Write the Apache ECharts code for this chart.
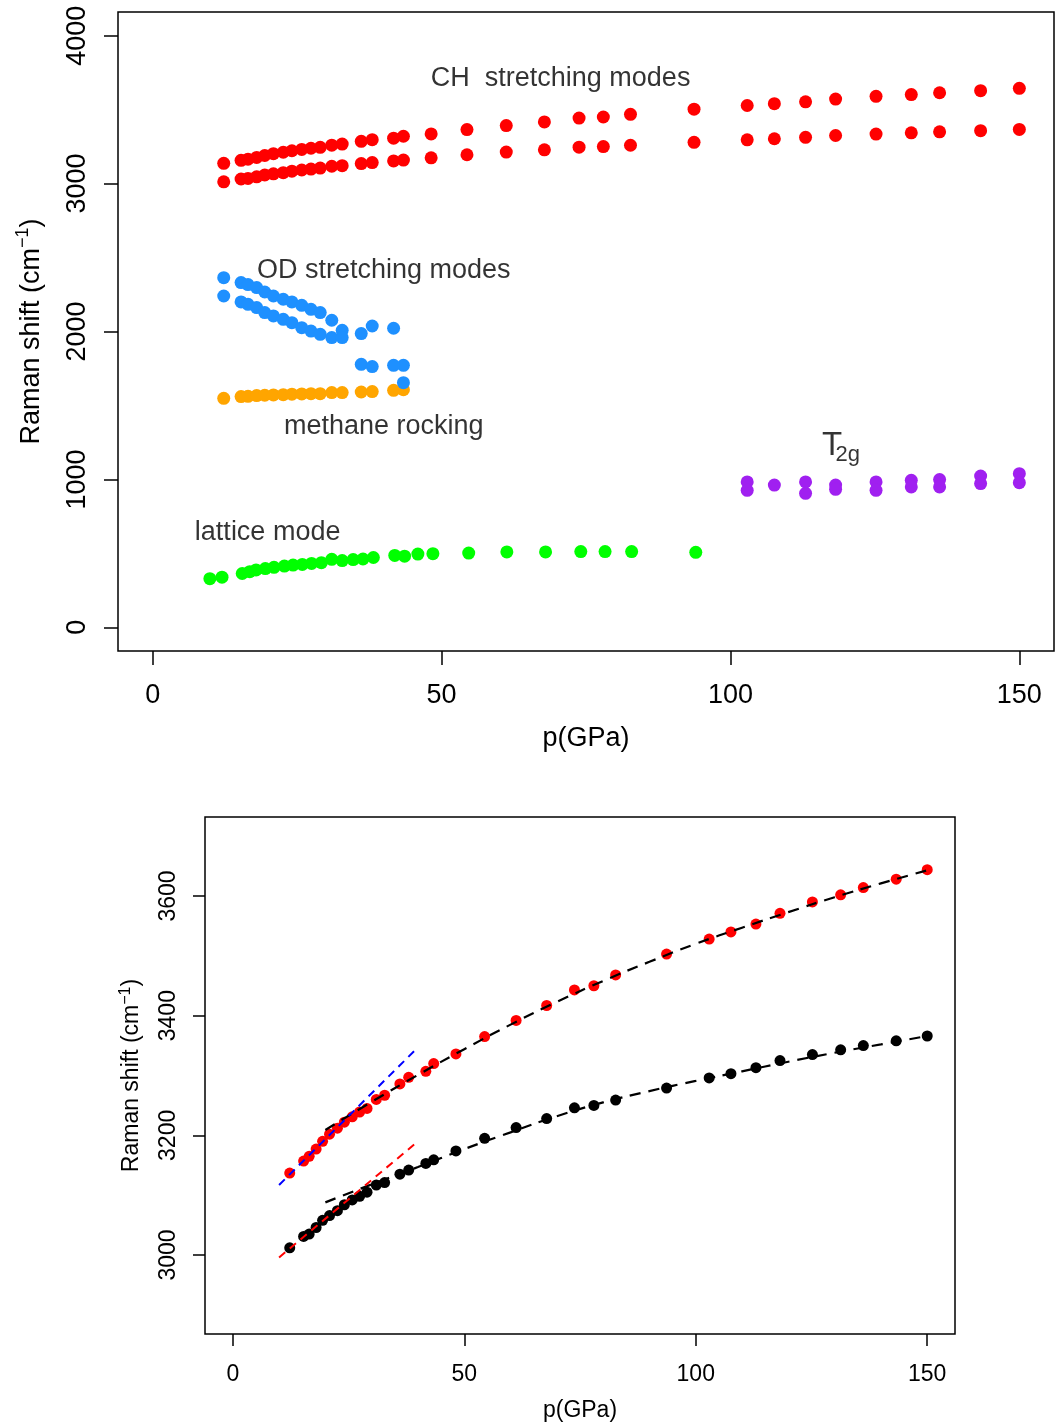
<!DOCTYPE html>
<html>
<head>
<meta charset="utf-8">
<script src="https://cdn.jsdelivr.net/npm/echarts@6.0.0/dist/echarts.min.js"></script>
<style>
  html, body { margin: 0; padding: 0; background: #fff; }
  #chart { width: 1055px; height: 1423px; }
</style>
</head>
<body>
<div id="chart"></div>
<script>
// Pressures (GPa) shared by both C-H stretching branches
const chPressure = [12.3, 15.3, 16.5, 18.0, 19.4, 20.9, 22.6, 24.1, 25.8, 27.4, 29.0, 31.0, 32.8, 36.1, 38.0, 41.7, 43.4,
  48.2, 54.4, 61.2, 67.8, 73.8, 78.0, 82.7, 93.7, 102.9, 107.6, 113.0, 118.2, 125.2, 131.3, 136.2, 143.3, 150.0];
const chUpper = [3137, 3157, 3165, 3177, 3190, 3202, 3212, 3222, 3231, 3239, 3245, 3260, 3267, 3286, 3297, 3307, 3320,
  3336, 3365, 3392, 3417, 3443, 3450, 3468, 3503, 3528, 3540, 3553, 3571, 3590, 3602, 3614, 3628, 3644];
const chLower = [3012, 3031, 3035, 3046, 3058, 3066, 3074, 3084, 3092, 3098, 3105, 3117, 3121, 3135, 3142, 3153, 3159,
  3174, 3195, 3213, 3228, 3246, 3250, 3259, 3279, 3296, 3303, 3313, 3325, 3335, 3343, 3350, 3358, 3366];

// O-D stretching and methane rocking (low-pressure phase)
const odPressure = [12.3, 15.3, 16.5, 18.0, 19.4, 20.9, 22.6, 24.1, 25.8, 27.4, 29.0, 31.0, 32.8, 36.1, 38.0, 41.7, 43.4];
const odUpper = [2364, 2331, 2317, 2297, 2267, 2240, 2218, 2200, 2177, 2150, 2128, 2076, 2008, 1986, 2037, 2022, 1771];
const odLower = [2240, 2200, 2184, 2162, 2128, 2105, 2082, 2060, 2026, 2003, 1981, 1959, 1959, 1778, 1763, 1771, 1654];
const rockShift = [1548, 1560, 1562, 1567, 1569, 1571, 1573, 1576, 1578, 1580, 1580, 1587, 1587, 1591, 1594, 1602, 1607];

// Lattice mode
const latticePressure = [9.9, 12.0, 15.5, 16.8, 17.9, 19.5, 21.0, 22.8, 24.3, 25.9, 27.5, 29.2, 31.0, 32.8, 34.7, 36.4,
  38.2, 41.9, 43.6, 45.9, 48.5, 54.7, 61.3, 68.0, 74.1, 78.3, 82.9, 94.0];
const latticeShift = [329, 339, 364, 376, 388, 397, 406, 414, 421, 425, 432, 437, 460, 451, 458, 462,
  472, 486, 481, 495, 498, 502, 510, 510, 512, 512, 512, 507];

// T2g doublet (high-pressure phase); null where only one band is resolved
const t2gPressure = [102.9, 107.6, 113.0, 118.2, 125.2, 131.3, 136.2, 143.3, 150.0];
const t2gUpper = [983, 962, 983, 962, 983, 994, 999, 1023, 1039];
const t2gLower = [926, null, 906, 933, 926, 949, 949, 972, 978];

// Fitted curves through the two C-H branches
const fitPressure = [20, 30, 40, 50, 60, 70, 80, 90, 100, 110, 120, 130, 140, 150];
const fitUpper = [3209, 3256, 3301, 3344, 3385, 3423, 3458, 3490, 3520, 3547, 3573, 3598, 3621, 3643];
const fitLower = [3088, 3118, 3147, 3177, 3205, 3232, 3255, 3274, 3291, 3307, 3323, 3338, 3352, 3366];

// Low-pressure linear slopes
const slopePressure = [10, 40];
const slopeUpper = [3117, 3347];
const slopeLower = [2996, 3190];

// Axis ticks
const pTicks = [0, 50, 100, 150];
const shiftTicksFull = [0, 1000, 2000, 3000, 4000];
const shiftTicksCH = [3000, 3200, 3400, 3600];

const FONT = '"Liberation Sans", Arial, Helvetica, sans-serif';

function zip(xs, ys) {
  const out = [];
  for (let i = 0; i < xs.length; i++) {
    if (ys[i] !== null && ys[i] !== undefined) out.push([xs[i], ys[i]]);
  }
  return out;
}

function xAxisFor(gridIndex, fontSize, tickLen, labelMargin, nameGap) {
  return {
    gridIndex, type: 'value', min: -6, max: 156,
    axisLine: { show: false, onZero: false },
    splitLine: { show: false },
    axisTick: { show: true, customValues: pTicks, length: tickLen, lineStyle: { color: '#000', width: 1.5 } },
    axisLabel: { customValues: pTicks, formatter: v => String(v), margin: labelMargin,
      fontSize, color: '#000', fontFamily: FONT },
    name: 'p(GPa)', nameLocation: 'middle', nameGap,
    nameTextStyle: { fontSize, color: '#000', fontFamily: FONT }
  };
}

function yAxisFor(gridIndex, min, max, ticks, fontSize, tickLen, labelMargin, nameGap) {
  return {
    gridIndex, type: 'value', min, max,
    axisLine: { show: false, onZero: false },
    splitLine: { show: false },
    axisTick: { show: true, customValues: ticks, length: tickLen, lineStyle: { color: '#000', width: 1.5 } },
    axisLabel: { customValues: ticks, formatter: v => String(v), margin: labelMargin, rotate: 90,
      fontSize, color: '#000', fontFamily: FONT },
    name: 'Raman shift (cm{sup|−1})', nameLocation: 'middle', nameGap, nameRotate: 90,
    nameTextStyle: {
      fontSize, color: '#000', fontFamily: FONT, lineHeight: fontSize * 1.3,
      rich: { sup: { fontSize: Math.round(fontSize * 0.68), color: '#000', fontFamily: FONT,
        verticalAlign: 'top', lineHeight: fontSize * 1.3 } }
    }
  };
}

function dots(xs, ys, color, size, gi) {
  return {
    type: 'scatter', xAxisIndex: gi, yAxisIndex: gi, data: zip(xs, ys),
    symbol: 'circle', symbolSize: size, itemStyle: { color, opacity: 1 }, silent: true
  };
}

function curve(xs, ys, color, width, dash, smooth) {
  return {
    type: 'line', xAxisIndex: 1, yAxisIndex: 1, data: zip(xs, ys), z: 5,
    showSymbol: false, smooth, lineStyle: { color, width, type: dash }, silent: true
  };
}

// Text placed in data coordinates, centred on (x, y)
function note(text, x, y, size) {
  return {
    type: 'scatter', xAxisIndex: 0, yAxisIndex: 0, symbolSize: 0, silent: true, z: 6,
    data: [[x, y]],
    itemStyle: { color: '#000' },
    label: { show: true, position: [0, 0], align: 'center', verticalAlign: 'middle',
      formatter: text, color: '#000', textBorderWidth: 0,
      fontSize: size, fontFamily: FONT }
  };
}

const chart = echarts.init(document.getElementById('chart'), null, { renderer: 'canvas' });
chart.setOption({
  animation: false,
  backgroundColor: '#fff',
  grid: [
    { left: 118, top: 12, width: 936, height: 639, show: true, borderColor: '#000', borderWidth: 1.5 },
    { left: 205, top: 817, width: 750, height: 517, show: true, borderColor: '#000', borderWidth: 1.5 }
  ],
  xAxis: [
    xAxisFor(0, 27, 14, 31, 74),
    xAxisFor(1, 23, 12, 29, 65)
  ],
  yAxis: [
    yAxisFor(0, -160, 4160, shiftTicksFull, 27, 14, 27, 69),
    yAxisFor(1, 2868, 3732, shiftTicksCH, 23, 12, 25, 58)
  ],
  series: [
    // full spectrum
    dots(chPressure, chUpper, '#ff0000', 13, 0),
    dots(chPressure, chLower, '#ff0000', 13, 0),
    dots(odPressure, rockShift, '#ffa500', 13, 0),
    dots(odPressure, odUpper, '#1e90ff', 13, 0),
    dots(odPressure, odLower, '#1e90ff', 13, 0),
    dots(latticePressure, latticeShift, '#00ff00', 13, 0),
    dots(t2gPressure, t2gUpper, '#a020f0', 13, 0),
    dots(t2gPressure, t2gLower, '#a020f0', 13, 0),
    note('CH  stretching modes', 70.6, 3712, 27),
    note('OD stretching modes', 40.0, 2414, 27),
    note('methane rocking', 40.0, 1359, 27),
    note('T', 117.6, 1228, 33),
    note('2g', 120.3, 1163, 22),
    note('lattice mode', 19.9, 642, 27),
    // C-H stretching detail
    dots(chPressure, chUpper, '#ff0000', 11, 1),
    dots(chPressure, chLower, '#000000', 11, 1),
    curve(fitPressure, fitUpper, '#000', 2.2, [11, 8], true),
    curve(fitPressure, fitLower, '#000', 2.2, [11, 8], true),
    curve(slopePressure, slopeUpper, '#0000ff', 2, [8, 6], false),
    curve(slopePressure, slopeLower, '#ff0000', 2, [8, 6], false)
  ]
});
</script>
</body>
</html>
